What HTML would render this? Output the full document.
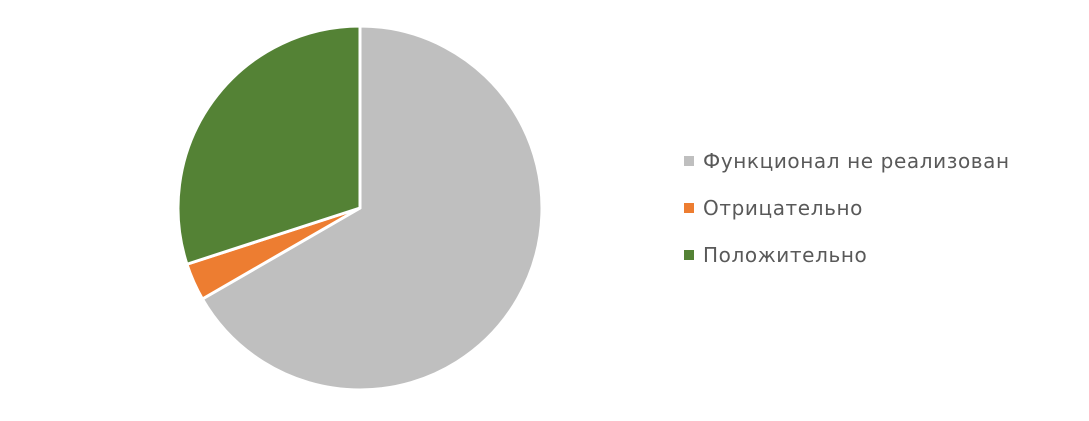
<!DOCTYPE html>
<html><head><meta charset="utf-8">
<style>
html,body{margin:0;padding:0;background:#fff;}
body{width:1089px;height:416px;overflow:hidden;font-family:"Liberation Sans","DejaVu Sans",sans-serif;}
</style></head>
<body>
<svg id="chart" width="1089" height="416" xmlns="http://www.w3.org/2000/svg"></svg>
<script>
const categories = ["Функционал не реализован", "Отрицательно", "Положительно"];
const values = [20, 1, 9];
const colors = ["#bfbfbf", "#ed7d31", "#548235"];

const svg = document.getElementById('chart');
const NS = 'http://www.w3.org/2000/svg';
const cx = 360, cy = 208, r = 182;
const total = values.reduce((a,b)=>a+b,0);
function pt(a){ return [cx + r*Math.sin(a), cy - r*Math.cos(a)]; }
let ang = 0;
values.forEach((v,i)=>{
  const a0 = ang, a1 = ang + v/total*2*Math.PI;
  ang = a1;
  const p0 = pt(a0), p1 = pt(a1);
  const large = (a1-a0) > Math.PI ? 1 : 0;
  const path = document.createElementNS(NS,'path');
  path.setAttribute('d', `M${cx},${cy} L${p0[0]},${p0[1]} A${r},${r} 0 ${large} 1 ${p1[0]},${p1[1]} Z`);
  path.setAttribute('fill', colors[i]);
  path.setAttribute('stroke', '#fff');
  path.setAttribute('stroke-width', '3');
  path.setAttribute('stroke-linejoin', 'round');
  
  
  svg.appendChild(path);
});
categories.forEach((c,i)=>{
  const y = 161 + i*47;
  const g = document.createElementNS(NS,'g');
  
  
  const rect = document.createElementNS(NS,'rect');
  rect.setAttribute('x', 684); rect.setAttribute('y', y-5);
  rect.setAttribute('width', 10); rect.setAttribute('height', 10);
  rect.setAttribute('fill', colors[i]);
  
  
  const t = document.createElementNS(NS,'text');
  t.setAttribute('x', 703); t.setAttribute('y', y+7);
  t.setAttribute('font-size', '20');
  t.setAttribute('font-family', 'DejaVu Sans, sans-serif');
  t.setAttribute('letter-spacing', '0.6');
  t.setAttribute('fill', '#595959');
  
  
  t.textContent = c;
  g.appendChild(rect); g.appendChild(t);
  svg.appendChild(g);
});
</script>
</body></html>
